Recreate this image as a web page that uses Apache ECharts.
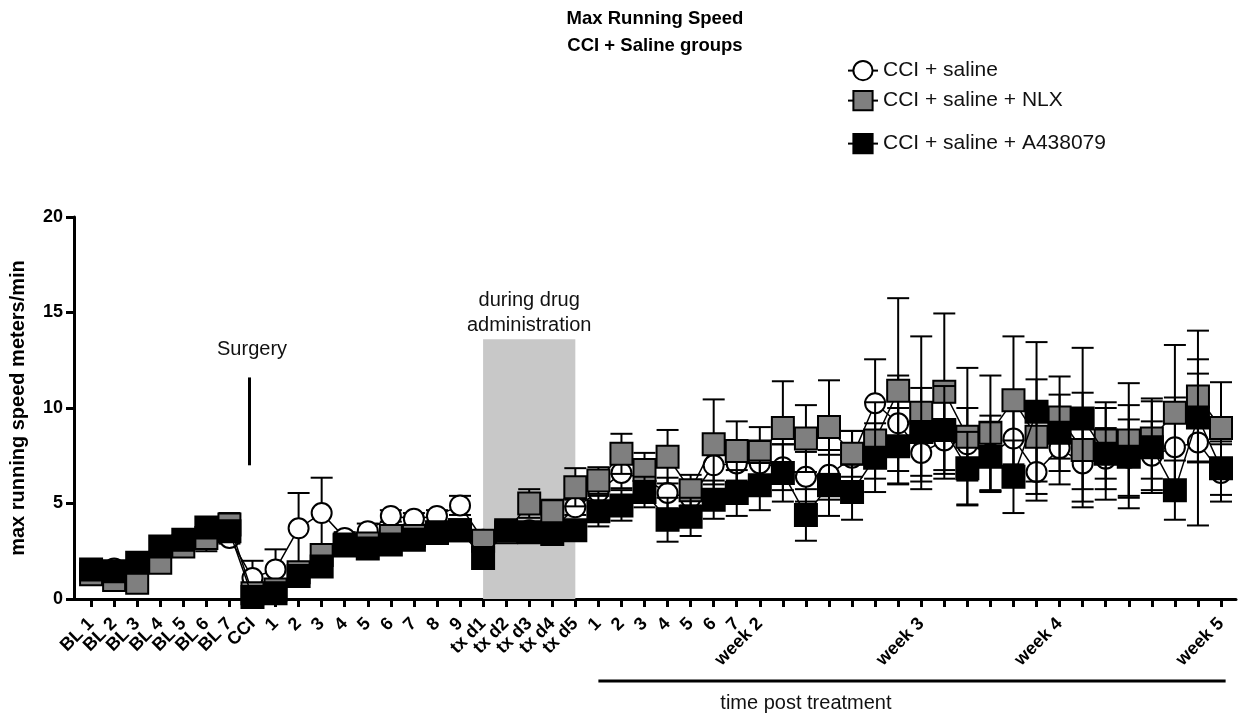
<!DOCTYPE html>
<html>
<head>
<meta charset="utf-8">
<script src="https://cdn.jsdelivr.net/npm/echarts@6/dist/echarts.min.js"></script>
<style>
html,body{margin:0;padding:0;background:#fff;}
#chart{width:1238px;height:715px;}
</style>
</head>
<body>
<div id="chart"></div>
<script>
// ---- data ----
const categories = ["BL 1","BL 2","BL 3","BL 4","BL 5","BL 6","BL 7","CCI",
  "1","2","3","4","5","6","7","8","9",
  "tx d1","tx d2","tx d3","tx d4","tx d5",
  "1","2","3","4","5","6","7","week 2",
  "","","","","","","week 3",
  "","","","","","week 4",
  "","","","","","","week 5"];

const seriesNames = ["CCI + saline", "CCI + saline + NLX", "CCI + saline + A438079"];

const salineMean = [1.5,1.6,1.8,2.6,3.0,3.4,3.2,1.1,
  1.55,3.7,4.5,3.2,3.55,4.35,4.2,4.35,4.9,
  3.1,3.5,3.6,3.6,4.8,
  5.6,6.6,6.3,5.55,5.3,7.0,7.1,7.1,
  6.9,6.4,6.5,7.4,10.25,9.2,7.65,
  8.3,8.1,7.6,8.4,6.65,7.9,
  7.1,7.35,7.4,7.5,7.95,8.2,6.6];
const salineErr = [0.3,0.3,0.3,0.3,0.3,0.3,0.3,0.9,
  1.05,1.85,1.85,0.3,0.4,0.3,0.3,0.3,0.5,
  0.4,0.4,0.4,0.4,0.4,
  0.6,0.8,0.8,0.8,0.8,1.0,1.0,1.2,
  1.2,1.3,1.3,1.4,2.3,2.5,1.5,
  2.0,1.9,2.0,2.5,1.5,1.9,
  2.0,1.6,2.0,1.8,2.6,4.35,1.5];

const nlxMean = [1.3,1.0,0.85,1.9,2.75,3.2,3.9,0.3,
  0.5,1.4,2.3,2.8,2.9,3.3,3.3,3.5,3.6,
  3.05,3.5,5.0,4.6,5.85,
  6.2,7.6,6.75,7.45,5.7,8.1,7.75,7.7,
  8.95,8.4,9.0,7.6,8.3,10.9,9.75,
  10.85,8.5,8.7,10.4,8.5,9.5,
  7.8,8.3,8.3,8.4,9.75,10.6,8.95];
const nlxErr = [0.3,0.3,0.3,0.3,0.3,0.7,0.6,0.3,
  0.3,0.3,0.3,0.3,0.3,0.3,0.3,0.3,0.3,
  0.3,0.3,0.75,0.6,1.0,
  0.7,1.05,0.9,1.4,0.8,2.35,1.55,1.3,
  2.45,1.75,2.45,1.2,2.0,4.85,4.0,
  4.1,3.6,3.0,3.35,3.0,2.15,
  3.0,2.0,3.0,2.1,3.55,3.45,2.4];

const a438Mean = [1.55,1.45,1.9,2.75,3.1,3.75,3.55,0.1,
  0.3,1.2,1.7,2.85,2.65,2.85,3.1,3.45,3.6,
  2.15,3.6,3.5,3.4,3.6,
  4.6,4.9,5.6,4.15,4.3,5.2,5.55,5.95,
  6.6,4.4,5.95,5.6,7.4,8.0,8.75,
  8.85,6.85,7.45,6.4,9.8,8.7,
  9.45,7.6,7.45,7.95,5.7,9.5,6.85];
const a438Err = [0.4,0.4,0.4,0.4,0.4,0.4,0.4,0.1,
  0.3,0.4,0.4,0.4,0.4,0.4,0.4,0.4,0.4,
  0.4,0.5,0.5,0.5,0.5,
  0.8,0.8,0.8,1.15,1.0,1.0,1.2,1.3,
  1.5,1.35,1.6,1.45,1.8,2.0,2.3,
  2.3,1.9,1.8,1.9,3.65,2.0,
  3.7,2.4,2.7,2.4,1.55,2.3,1.4];

const yTicks = [0, 5, 10, 15, 20];

// ---- chart ----
const chart = echarts.init(document.getElementById('chart'), null, {renderer: 'canvas'});
const X_MIN = -0.74, X_MAX = 49.65;
// a placeholder value at the axis start (hidden) so that "BL 1" and "BL 2" both stay visible
const idx = [X_MIN].concat(categories.map((c, i) => i));
const FONT = 'Liberation Sans, Arial, Helvetica, sans-serif';

function pairs(vals) { return vals.map((v, i) => [i, v]); }
function triples(vals, errs) { return vals.map((v, i) => [i, v, errs[i]]); }

function errRender(params, api) {
  const x = api.value(0), v = api.value(1), e = api.value(2);
  const top = api.coord([x, v + e]);
  const bot = api.coord([x, Math.max(0, v - e)]);
  const hw = 11;
  const st = {stroke: '#000', lineWidth: 2};
  return {type: 'group', children: [
    {type: 'line', shape: {x1: top[0], y1: top[1], x2: bot[0], y2: bot[1]}, style: st},
    {type: 'line', shape: {x1: top[0] - hw, y1: top[1], x2: top[0] + hw, y2: top[1]}, style: st},
    {type: 'line', shape: {x1: bot[0] - hw, y1: bot[1], x2: bot[0] + hw, y2: bot[1]}, style: st}
  ]};
}

const styles = [
  {symbol: 'circle', size: 20, fill: '#ffffff'},
  {symbol: 'rect', size: 22, fill: '#7f7f7f'},
  {symbol: 'rect', size: 22, fill: '#000000'}
];
const means = [salineMean, nlxMean, a438Mean];
const errs = [salineErr, nlxErr, a438Err];

const series = [{
  type: 'line', data: [], z: 0, silent: true,
  markArea: {silent: true, itemStyle: {color: '#c8c8c8'},
    data: [[{coord: [17, 0]}, {coord: [21, 13.6]}]]},
  markLine: {silent: true, symbol: 'none', label: {show: false},
    lineStyle: {color: '#000', width: 3, type: 'solid'},
    data: [[{coord: [6.85, 7.0]}, {coord: [6.85, 11.6]}]]}
}];
seriesNames.forEach((name, k) => {
  series.push({
    type: 'custom', name: name + ' err', z: 1 + 2 * k, silent: true,
    renderItem: errRender, encode: {x: 0, y: 1},
    data: triples(means[k], errs[k])
  });
  series.push({
    type: 'line', name: name, z: 2 + 2 * k, silent: true,
    data: pairs(means[k]),
    symbol: styles[k].symbol, symbolSize: styles[k].size,
    showAllSymbol: true,
    lineStyle: {color: '#000', width: 1.5},
    itemStyle: {color: styles[k].fill, borderColor: '#000', borderWidth: 2},
    emphasis: {disabled: true}
  });
});

const legendTops = [55, 85, 128];
const legends = seriesNames.map((n, k) => ({
  data: [n], left: 842, top: legendTops[k], orient: 'vertical',
  itemWidth: 30, itemHeight: 24, itemGap: 0, selectedMode: false,
  textStyle: {fontFamily: FONT, fontSize: 21, color: '#111'}
}));

chart.setOption({
  animation: false,
  backgroundColor: '#ffffff',
  grid: {left: 73, right: 2, top: 217, bottom: 116, containLabel: false},
  legend: legends,
  xAxis: {
    type: 'value', min: X_MIN, max: X_MAX,
    splitLine: {show: false},
    axisLine: {show: true, onZero: false, lineStyle: {color: '#000', width: 3}},
    axisTick: {show: true, customValues: idx, length: 8, lineStyle: {color: '#000', width: 3}},
    axisLabel: {show: true, customValues: idx, rotate: 45, margin: 22,
      showMinLabel: false, showMaxLabel: true, hideOverlap: false,
      formatter: v => (v < 0 ? ' ' : (categories[Math.round(v)] || '')),
      fontFamily: FONT, fontSize: 18, fontWeight: 'bold', color: '#000'}
  },
  yAxis: {
    type: 'value', min: yTicks[0], max: yTicks[yTicks.length - 1], interval: 5,
    splitLine: {show: false},
    axisLine: {show: true, onZero: false, lineStyle: {color: '#000', width: 3}},
    axisTick: {show: true, length: 8, lineStyle: {color: '#000', width: 3}},
    axisLabel: {fontFamily: FONT, fontSize: 18, fontWeight: 'bold', color: '#000', margin: 11},
    name: 'max running speed meters/min', nameLocation: 'middle', nameGap: 46,
    nameTextStyle: {fontFamily: FONT, fontSize: 20, fontWeight: 'bold', color: '#000'}
  },
  series: series
});

// annotations positioned through the chart's own scales
function px(x, y) { return chart.convertToPixel({gridIndex: 0}, [x, y]); }
const pSurg = px(6.85, 13.05);
const pDrug1 = px(19, 15.65);
const pDrug2 = px(19, 14.3);
const pT0 = px(22, 0), pT1 = px(49.2, 0), pTtext = px(31, 0);
const txt = (t, x, y, extra) => ({type: 'text', z: 20, silent: true,
  style: Object.assign({text: t, x: x, y: y, textAlign: 'center', textVerticalAlign: 'middle',
    fontFamily: FONT, fontSize: 20, fill: '#111'}, extra || {})});
chart.setOption({
  graphic: [
    txt('Max Running Speed', 655, 19, {fontSize: 18.5, fontWeight: 'bold', fill: '#000'}),
    txt('CCI + Saline groups', 655, 46, {fontSize: 18.5, fontWeight: 'bold', fill: '#000'}),
    txt('Surgery', pSurg[0] + 3, pSurg[1]),
    txt('during drug', pDrug1[0], pDrug1[1]),
    txt('administration', pDrug2[0], pDrug2[1]),
    {type: 'line', silent: true, z: 20,
      shape: {x1: pT0[0], y1: 681, x2: pT1[0], y2: 681},
      style: {stroke: '#000', lineWidth: 3}},
    txt('time post treatment', pTtext[0], 703)
  ]
});
</script>
</body>
</html>
